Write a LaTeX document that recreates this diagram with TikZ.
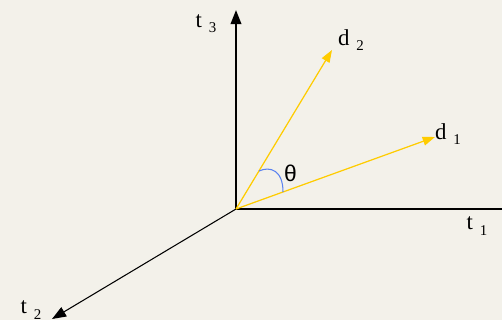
\documentclass[tikz,border=0pt]{standalone}
\usepackage{fontspec}
\setmainfont{Liberation Serif}
\newfontfamily\thetafont{Liberation Sans}
\usetikzlibrary{arrows.meta}
\definecolor{paper}{HTML}{F3F1EA}
\definecolor{vecyellow}{HTML}{FFCC00}
\definecolor{arcblue}{HTML}{5B82F0}
\tikzset{
  axis/.style={draw=black,line width=1.1pt,-{Triangle[length=8pt,width=6pt]}},
  vec/.style={draw=vecyellow,line width=0.7pt,-{Triangle[length=7pt,width=5pt]}},
  lbl/.style={font=\fontsize{13}{15}\selectfont,inner sep=0pt}
}
\newcommand{\idx}[2]{#1\hspace{4pt}\raisebox{-3pt}{\fontsize{8.5}{9}\selectfont #2}}

\begin{document}
\begin{tikzpicture}
\fill[paper] (0,0) rectangle (10.04,6.4);
\useasboundingbox (0,0) rectangle (10.04,6.4);
\coordinate (o) at (4.72,2.22);
\coordinate (e1) at (10.04,2.22);
\coordinate (e2) at (1.04,0.02);
\coordinate (e3) at (4.72,6.2);
\coordinate (v1) at (8.7,3.66);
\coordinate (v2) at (6.64,5.4);
\node[lbl] (t3) at (4.12,5.92) {\idx{t}{3}};
\node[lbl] (t1) at (9.54,1.88) {\idx{t}{1}};
\node[lbl] (t2) at (0.62,0.2) {\idx{t}{2}};
\node[lbl] (d2) at (7.02,5.6) {\idx{d}{2}};
\node[lbl] (d1) at (8.96,3.72) {\idx{d}{1}};
\node[inner sep=0pt,font=\thetafont\fontsize{13}{15}\selectfont] (th) at (5.81,2.93) {θ};
\draw[axis] (o) -- (e3);
\draw[line width=0.8pt] (o) -- (e1);
\draw[line width=0.6pt,-{Triangle[length=8pt,width=6pt]}] (o) -- (e2);
\draw[vec] (o) -- (v1);
\draw[vec] (o) -- (v2);
\draw[arcblue,line width=0.6pt] (5.18,2.98) .. controls (5.40,3.08) and (5.66,3.0) .. (5.66,2.56);
\end{tikzpicture}
\end{document}
